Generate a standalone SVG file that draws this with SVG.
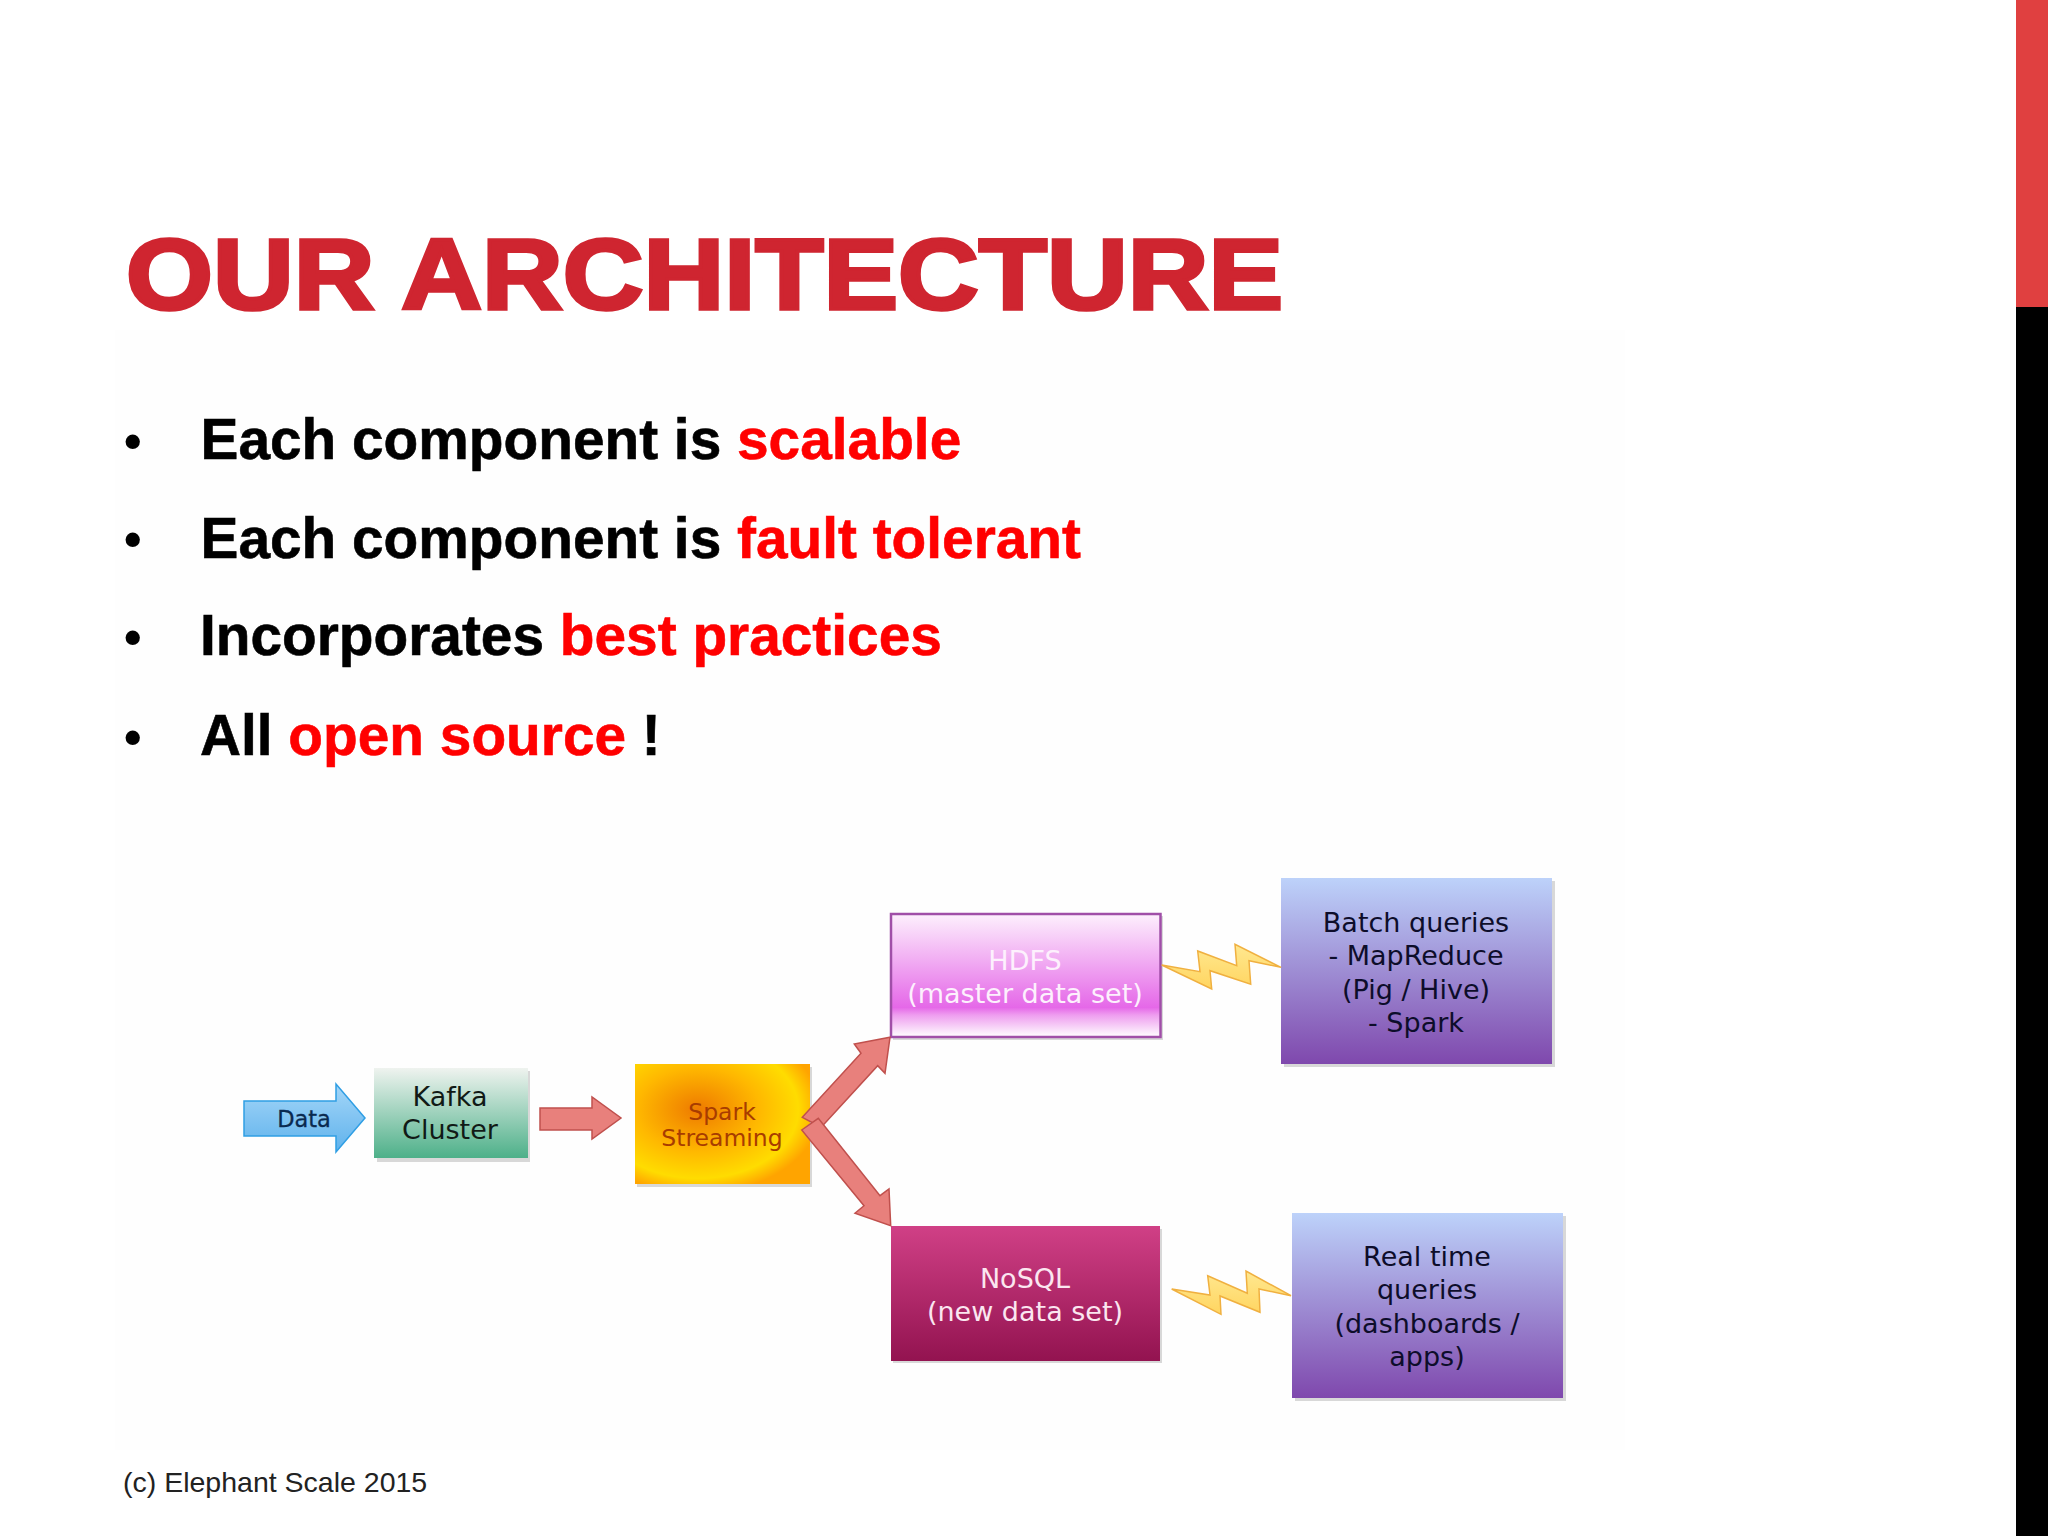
<svg xmlns="http://www.w3.org/2000/svg" width="2048" height="1536" viewBox="0 0 2048 1536">
<style>
.b{font:bold 56.8px "Liberation Sans",Arial,sans-serif;fill:#000;stroke:#000;stroke-width:.6}
.r{fill:#f00;stroke:#f00}
.dot{font:bold 50px "Liberation Sans",Arial,sans-serif;fill:#000}
.n{font-family:"DejaVu Sans",Verdana,sans-serif;font-size:27px;text-anchor:middle}
.arr{fill:#e8807c;stroke:#c0504d;stroke-width:1.5}
.bolt{fill:url(#gBolt);stroke:#f0b040;stroke-width:1.5}
.shade{fill:#d8d8d8}
</style>
<defs>
<linearGradient id="gKafka" x1="0" y1="0" x2="0" y2="1"><stop offset="0" stop-color="#eff3ef"/><stop offset="1" stop-color="#4db089"/></linearGradient>
<radialGradient id="gSpark" cx="0.36" cy="0.38" r="0.7"><stop offset="0" stop-color="#ee7a00"/><stop offset="0.5" stop-color="#ffb800"/><stop offset="0.82" stop-color="#ffdc00"/><stop offset="1" stop-color="#ffa400"/></radialGradient>
<linearGradient id="gHdfs" x1="0" y1="0" x2="0" y2="1"><stop offset="0" stop-color="#fdf0fd"/><stop offset="0.76" stop-color="#e568e8"/><stop offset="0.82" stop-color="#ee9cef"/><stop offset="1" stop-color="#ffffff"/></linearGradient>
<linearGradient id="gNosql" x1="0" y1="0" x2="0" y2="1"><stop offset="0" stop-color="#d04086"/><stop offset="1" stop-color="#931350"/></linearGradient>
<linearGradient id="gQuery" x1="0" y1="0" x2="0" y2="1"><stop offset="0" stop-color="#bdd2fa"/><stop offset="1" stop-color="#7f48ad"/></linearGradient>
<linearGradient id="gData" x1="0" y1="0" x2="0" y2="1"><stop offset="0" stop-color="#a4d6f8"/><stop offset="1" stop-color="#5fb2ec"/></linearGradient>
<linearGradient id="gBolt" x1="0" y1="0" x2="0" y2="1"><stop offset="0" stop-color="#ffe890"/><stop offset="1" stop-color="#ffd560"/></linearGradient>
</defs>
<rect width="2048" height="1536" fill="#fff"/>
<rect x="115" y="330" width="1510" height="1120" fill="#fefefe"/>
<rect x="2016" y="0" width="32" height="307" fill="#e04040"/>
<rect x="2016" y="307" width="32" height="1229" fill="#000"/>
<text id="title" x="126" y="309" font-family="Liberation Sans,Arial,sans-serif" font-weight="bold" font-size="101" fill="#cf2530" stroke="#cf2530" stroke-width="3.6" textLength="1157" lengthAdjust="spacingAndGlyphs">OUR ARCHITECTURE</text>
<g id="bullets">
<text class="dot" x="124" y="458">•</text><text class="b" x="200.5" y="459">Each component is <tspan class="r">scalable</tspan></text>
<text class="dot" x="124" y="556">•</text><text class="b" x="200.5" y="558">Each component is <tspan class="r">fault tolerant</tspan></text>
<text class="dot" x="124" y="654">•</text><text class="b" x="200" y="655">Incorporates <tspan class="r">best practices</tspan></text>
<text class="dot" x="124" y="754">•</text><text class="b" x="200" y="755">All <tspan class="r">open source</tspan> !</text>
</g>
<g id="kafka"><rect class="shade" x="377" y="1071" width="153" height="91"/><rect x="374" y="1068" width="154" height="90" fill="url(#gKafka)"/>
<text class="n" x="450" y="1106" fill="#111a16">Kafka</text><text class="n" x="450" y="1139" fill="#111a16">Cluster</text></g>
<g id="spark"><rect class="shade" x="637" y="1067" width="175" height="120"/><rect x="635" y="1064" width="175" height="120" fill="url(#gSpark)"/>
<text class="n" x="722" y="1120" fill="#a83c00" style="font-size:23.5px">Spark</text><text class="n" x="722" y="1146" fill="#a83c00" style="font-size:23.5px">Streaming</text></g>
<g id="hdfs"><rect class="shade" x="893" y="916" width="270" height="124"/><rect x="891" y="914" width="269.5" height="123" fill="url(#gHdfs)" stroke="#a04fa8" stroke-width="2.5"/>
<text class="n" x="1025" y="970" fill="#fdf0fd">HDFS</text><text class="n" x="1025" y="1003" fill="#fdf0fd">(master data set)</text></g>
<g id="nosql"><rect class="shade" x="893" y="1229" width="269" height="134"/><rect x="891" y="1226" width="269" height="135" fill="url(#gNosql)"/>
<text class="n" x="1025" y="1288" fill="#fbe6f0">NoSQL</text><text class="n" x="1025" y="1321" fill="#fbe6f0">(new data set)</text></g>
<g id="batch"><rect class="shade" x="1284" y="881" width="271" height="186"/><rect x="1281" y="878" width="271" height="186" fill="url(#gQuery)"/>
<text class="n" x="1416" y="932" fill="#0d0d2a">Batch queries</text><text class="n" x="1416" y="965" fill="#0d0d2a">- MapReduce</text><text class="n" x="1416" y="999" fill="#0d0d2a">(Pig / Hive)</text><text class="n" x="1416" y="1032" fill="#0d0d2a">- Spark</text></g>
<g id="realtime"><rect class="shade" x="1295" y="1216" width="271" height="185"/><rect x="1292" y="1213" width="271" height="185" fill="url(#gQuery)"/>
<text class="n" x="1427" y="1266" fill="#0d0d2a">Real time</text><text class="n" x="1427" y="1299" fill="#0d0d2a">queries</text><text class="n" x="1427" y="1333" fill="#0d0d2a">(dashboards /</text><text class="n" x="1427" y="1366" fill="#0d0d2a">apps)</text></g>
<g id="connectors">
<polygon id="data-arrow" points="244,1101 336,1101 336,1084 365,1118 336,1152 336,1136 244,1136" fill="url(#gData)" stroke="#2f9ee4" stroke-width="1.5"/>
<polygon class="arr" points="540,1108 592,1108 592,1097 621,1118 592,1139 592,1130 540,1130"/>
<polygon class="arr" points="802.3,1117.3 861,1053.3 854.3,1044 890,1037.3 885,1073.3 877.7,1065.7 823.3,1125 813,1123"/>
<polygon class="arr" points="801.7,1130 818.3,1118.3 880,1195.7 889,1189 890.7,1225.7 855,1213.3 864,1205.7"/>
<polygon class="bolt" points="1161.7,965 1200,971.7 1197.7,951 1236.7,965.7 1235,944.3 1281,967.3 1249,960.7 1250.7,984.3 1210,970.7 1211.7,989"/>
<polygon class="bolt" points="1171.7,1289 1210,1295 1207.7,1275.7 1247.3,1293.3 1246,1271 1291,1295.7 1259,1289 1260,1312.3 1220,1296 1221,1314.3"/>
</g>
<text id="data-label" x="304" y="1127" text-anchor="middle" font-family="DejaVu Sans,Verdana,sans-serif" font-size="22.5" fill="#0a2a50" stroke="#0a2a50" stroke-width=".3">Data</text>
<text id="footer" x="123" y="1492" font-family="Liberation Sans,Arial,sans-serif" font-size="28.5" fill="#222">(c) Elephant Scale 2015</text>
</svg>
